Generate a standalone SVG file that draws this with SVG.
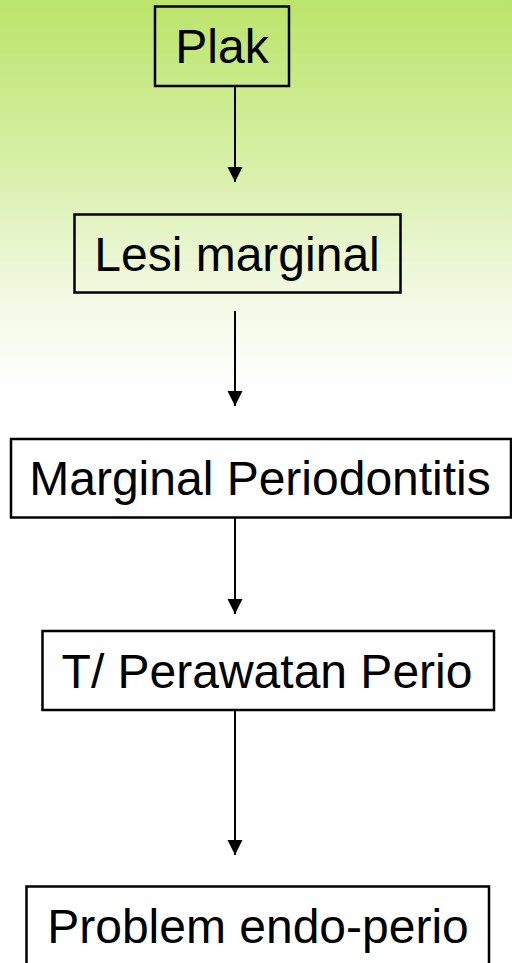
<svg xmlns="http://www.w3.org/2000/svg" width="512" height="963" viewBox="0 0 512 963">
<style>
.box{fill:none;stroke:#000;stroke-width:2.5}
.lbl{font-family:"Liberation Sans",Arial,sans-serif;font-size:48px;fill:#000;text-anchor:middle}
.conn{stroke:#000;stroke-width:2;fill:none}
</style>
<defs>
<linearGradient id="bg" x1="0" y1="0" x2="0" y2="1">
<stop offset="0" stop-color="#bbe46a"/>
<stop offset="0.4" stop-color="#d6efa4"/>
<stop offset="0.75" stop-color="#f1f9e2"/>
<stop offset="1" stop-color="#ffffff"/>
</linearGradient>
<marker id="ah" viewBox="0 0 16 16" markerWidth="16" markerHeight="16" refX="15" refY="8" orient="auto" markerUnits="userSpaceOnUse">
<path d="M0,0.5 L15,8 L0,15.5 Z" fill="#000"/>
</marker>
</defs>
<rect x="0" y="0" width="512" height="963" fill="#fff"/>
<rect x="0" y="0" width="512" height="390" fill="url(#bg)"/>
<g id="connectors">
<line class="conn" x1="235" y1="86" x2="235" y2="182" marker-end="url(#ah)"/>
<line class="conn" x1="235" y1="311" x2="235" y2="406" marker-end="url(#ah)"/>
<line class="conn" x1="235" y1="518" x2="235" y2="614" marker-end="url(#ah)"/>
<line class="conn" x1="235" y1="711" x2="235" y2="855" marker-end="url(#ah)"/>
</g>
<g id="plak">
<rect class="box" x="155" y="6.5" width="134" height="79.5"/>
<text class="lbl" x="222" y="63">Plak</text>
</g>
<g id="lesi">
<rect class="box" x="74.5" y="214.5" width="326" height="78"/>
<text class="lbl" x="237" y="270.5">Lesi marginal</text>
</g>
<g id="marginal">
<rect class="box" x="11" y="439" width="500" height="78.5"/>
<text class="lbl" x="260" y="495">Marginal Periodontitis</text>
</g>
<g id="perawatan">
<rect class="box" x="42.5" y="631" width="451.5" height="79"/>
<text class="lbl" x="267" y="687.5">T/ Perawatan Perio</text>
</g>
<g id="problem">
<rect class="box" x="26.5" y="886.5" width="462.5" height="80"/>
<text class="lbl" x="258" y="942.5">Problem endo-perio</text>
</g>
</svg>
